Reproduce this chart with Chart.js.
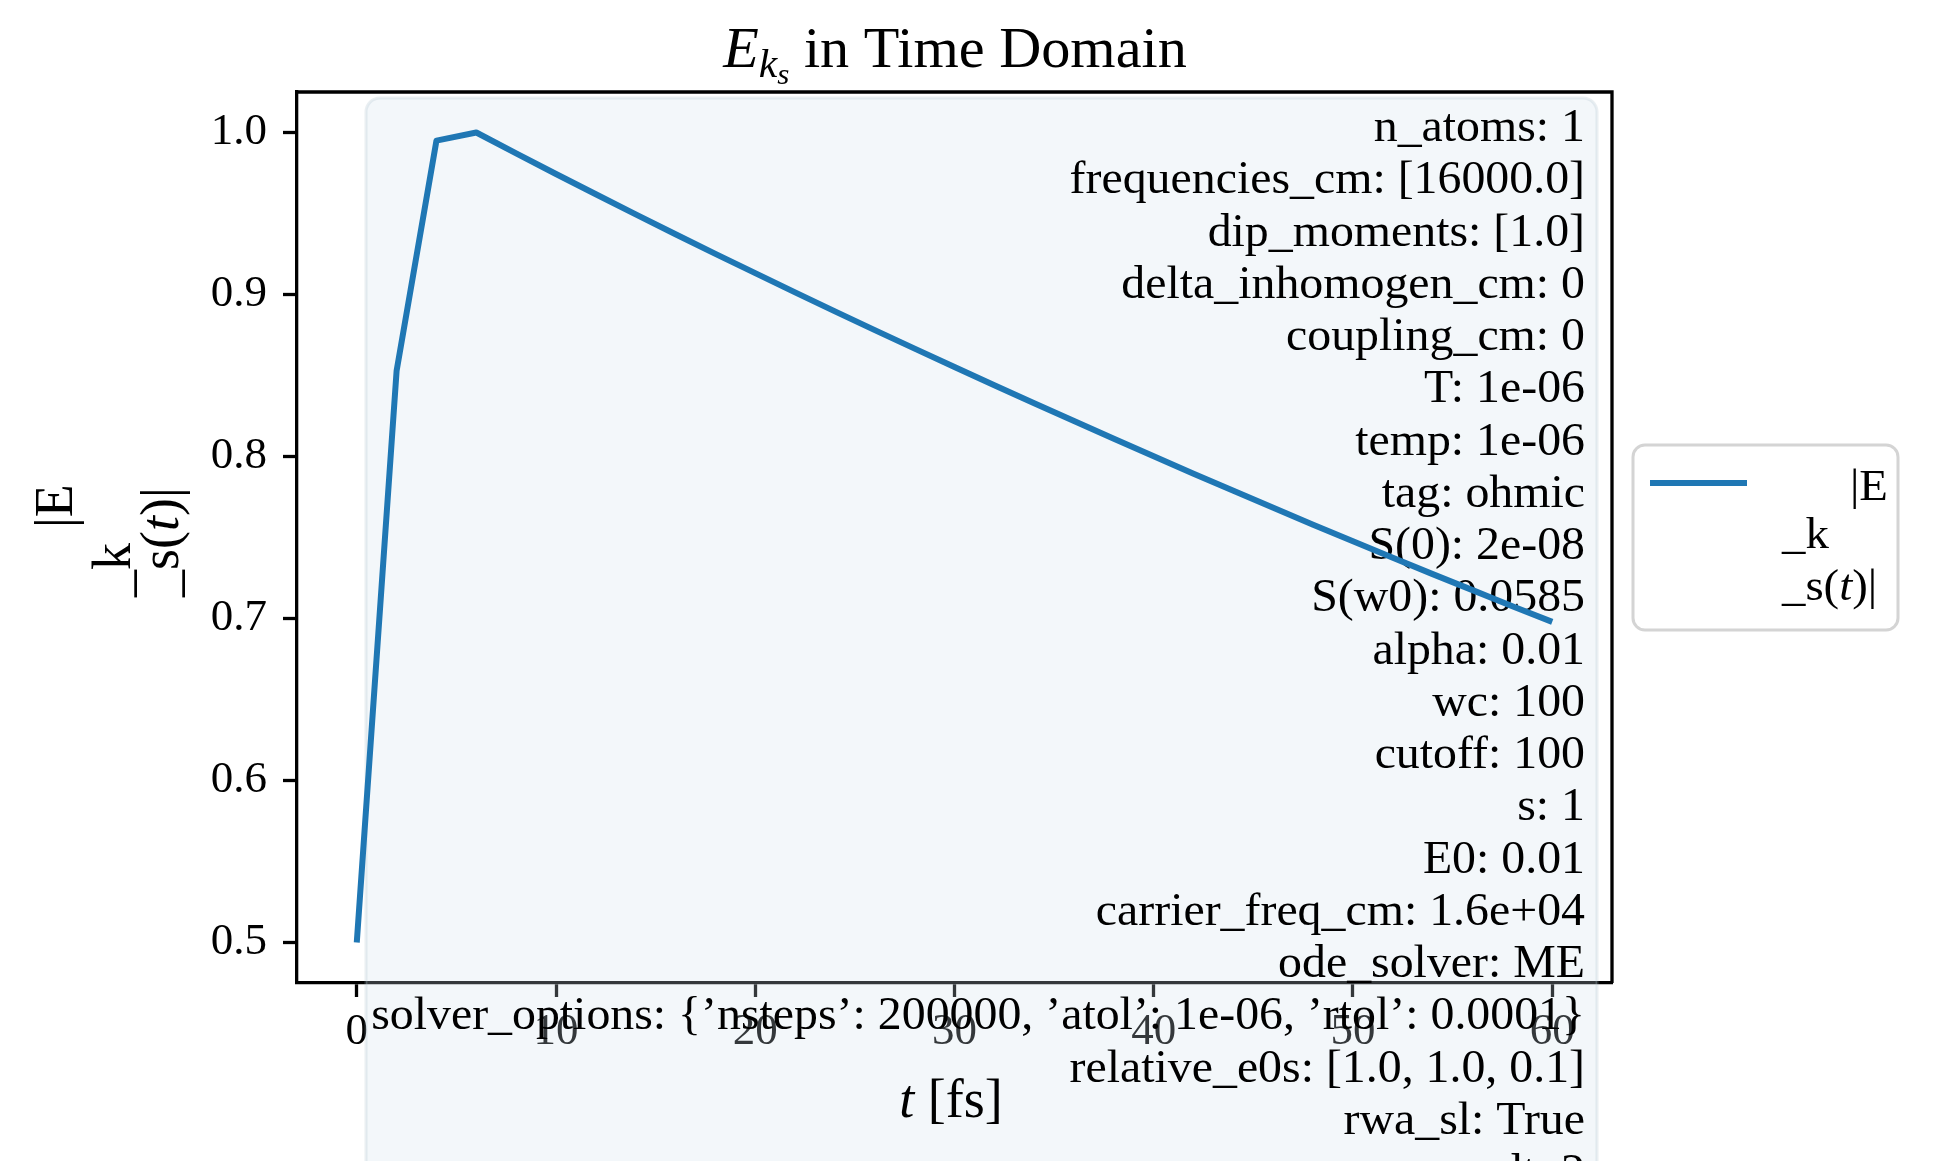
<!DOCTYPE html>
<html>
<head>
<meta charset="utf-8">
<script src="https://cdn.jsdelivr.net/npm/chart.js@4.4.1/dist/chart.umd.min.js"></script>
<style>
  html, body { margin: 0; padding: 0; background: #ffffff; }
  #wrap { width: 1933px; height: 1161px; overflow: hidden; }
</style>
</head>
<body>
<div id="wrap"><canvas id="c" width="1933" height="1161" style="width:1933px;height:1161px"></canvas></div>
<script>
// ---------------- data ----------------
const tValues = [0, 2, 4, 6, 8, 10, 12, 14, 16, 18, 20, 22, 24, 26, 28, 30,
                 32, 34, 36, 38, 40, 42, 44, 46, 48, 50, 52, 54, 56, 58, 60];
const eValues = [0.5000, 0.8530, 0.9950, 1.0000, 0.9871, 0.9744, 0.9619, 0.9495, 0.9372, 0.9251,
                 0.9132, 0.9013, 0.8896, 0.8780, 0.8666, 0.8552, 0.8440, 0.8329, 0.8219, 0.8109,
                 0.8001, 0.7894, 0.7788, 0.7683, 0.7579, 0.7477, 0.7375, 0.7274, 0.7175, 0.7076, 0.6979];
const xTicks = [0, 10, 20, 30, 40, 50, 60];
const yTicks = [0.5, 0.6, 0.7, 0.8, 0.9, 1.0];
const paramLines = [
  "n_atoms: 1",
  "frequencies_cm: [16000.0]",
  "dip_moments: [1.0]",
  "delta_inhomogen_cm: 0",
  "coupling_cm: 0",
  "T: 1e-06",
  "temp: 1e-06",
  "tag: ohmic",
  "S(0): 2e-08",
  "S(w0): 0.0585",
  "alpha: 0.01",
  "wc: 100",
  "cutoff: 100",
  "s: 1",
  "E0: 0.01",
  "carrier_freq_cm: 1.6e+04",
  "ode_solver: ME",
  "solver_options: {\u2019nsteps\u2019: 200000, \u2019atol\u2019: 1e-06, \u2019rtol\u2019: 0.0001}",
  "relative_e0s: [1.0, 1.0, 0.1]",
  "rwa_sl: True",
  "dt: 2"
];

// ---------------- helpers ----------------
const SERIF = '"Liberation Serif", "DejaVu Serif", serif';
function f(size, italic) { return (italic ? 'italic ' : '') + size + 'px ' + SERIF; }

function drawParts(ctx, parts, x, y, align, sx, rot) {
  ctx.save();
  ctx.translate(x, y);
  if (rot) ctx.rotate(rot);
  ctx.scale(sx || 1, 1);
  ctx.textBaseline = 'alphabetic';
  ctx.textAlign = 'left';
  ctx.fillStyle = '#000';
  let w = 0;
  parts.forEach(p => { ctx.font = p.f; w += ctx.measureText(p.t).width; });
  let cx = align === 'center' ? -w / 2 : (align === 'right' ? -w : 0);
  parts.forEach(p => { ctx.font = p.f; ctx.fillText(p.t, cx, p.dy || 0); cx += ctx.measureText(p.t).width; });
  ctx.restore();
}
function rrect(ctx, x, y, w, h, r) {
  ctx.beginPath();
  ctx.moveTo(x + r, y);
  ctx.lineTo(x + w - r, y);
  ctx.arcTo(x + w, y, x + w, y + r, r);
  ctx.lineTo(x + w, y + h - r);
  ctx.arcTo(x + w, y + h, x + w - r, y + h, r);
  ctx.lineTo(x + r, y + h);
  ctx.arcTo(x, y + h, x, y + h - r, r);
  ctx.lineTo(x, y + r);
  ctx.arcTo(x, y, x + r, y, r);
  ctx.closePath();
}

const decor = {
  id: 'decor',
  beforeDraw(chart) {
    const ctx = chart.ctx;
    ctx.save();
    ctx.fillStyle = '#ffffff';
    ctx.fillRect(0, 0, chart.width, chart.height);
    ctx.restore();
  },
  beforeDatasetsDraw(chart) {
    const ctx = chart.ctx;
    const a = chart.chartArea;
    // top & right spines
    ctx.save();
    ctx.strokeStyle = '#000';
    ctx.lineWidth = 3.3;
    ctx.beginPath();
    ctx.moveTo(a.left, a.top); ctx.lineTo(a.right, a.top); ctx.lineTo(a.right, a.bottom);
    ctx.stroke();
    ctx.restore();
    // parameter text box (semi transparent)
    ctx.save();
    rrect(ctx, 366, 98, 1231, 1160, 14);
    ctx.fillStyle = 'rgba(207,223,235,0.25)';
    ctx.fill();
    ctx.strokeStyle = 'rgba(170,190,205,0.25)';
    ctx.lineWidth = 3;
    ctx.stroke();
    ctx.restore();
    paramLines.forEach((s, i) => {
      drawParts(ctx, [{ t: s, f: f(46) }], 1585, 141 + 52.25 * i, 'right', 1.04);
    });
  },
  afterDraw(chart) {
    const ctx = chart.ctx;
    // title
    drawParts(ctx, [
      { t: 'E', f: f(56, true) },
      { t: 'k', f: f(40, true), dy: 10 },
      { t: 's', f: f(30, true), dy: 17 },
      { t: ' in Time Domain', f: f(56) }
    ], 955, 67, 'center', 1.04);
    // x label
    drawParts(ctx, [
      { t: 't', f: f(54, true) },
      { t: ' [fs]', f: f(54) }
    ], 951, 1117, 'center', 1.0);
    // y label (three rotated lines)
    const R = -Math.PI / 2;
    drawParts(ctx, [{ t: '|E', f: f(54) }], 72, 528, 'left', 1.0, R);
    drawParts(ctx, [{ t: '_k', f: f(54) }], 130, 597, 'left', 1.0, R);
    drawParts(ctx, [{ t: '_s(', f: f(54) }, { t: 't', f: f(54, true) }, { t: ')|', f: f(54) }], 178, 597, 'left', 1.0, R);
    // legend
    ctx.save();
    rrect(ctx, 1633, 445, 265, 185, 12);
    ctx.fillStyle = 'rgba(255,255,255,0.85)';
    ctx.fill();
    ctx.strokeStyle = '#d4d4d4';
    ctx.lineWidth = 3;
    ctx.stroke();
    ctx.strokeStyle = chart.data.datasets[0].borderColor;
    ctx.lineWidth = 6;
    ctx.beginPath();
    ctx.moveTo(1650, 483); ctx.lineTo(1747, 483);
    ctx.stroke();
    ctx.restore();
    drawParts(ctx, [{ t: '|E', f: f(45) }], 1850, 500, 'left', 1.04);
    drawParts(ctx, [{ t: '_k', f: f(45) }], 1782, 548, 'left', 1.04);
    drawParts(ctx, [{ t: '_s(', f: f(45) }, { t: 't', f: f(45, true) }, { t: ')|', f: f(45) }], 1782, 600, 'left', 1.04);
  }
};

const tickFont = { family: SERIF, size: 45 };

new Chart(document.getElementById('c'), {
  type: 'line',
  data: {
    datasets: [{
      label: '|E_k_s(t)|',
      data: tValues.map((t, i) => ({ x: t, y: eValues[i] })),
      borderColor: '#1f77b4',
      borderWidth: 6,
      pointRadius: 0,
      tension: 0,
      fill: false,
      borderJoinStyle: 'round',
      borderCapStyle: 'butt'
    }]
  },
  options: {
    responsive: false,
    devicePixelRatio: 1,
    animation: false,
    events: [],
    layout: { padding: { top: 92, right: 321, left: 0, bottom: 0 } },
    plugins: { legend: { display: false }, title: { display: false }, tooltip: { enabled: false } },
    scales: {
      x: {
        type: 'linear',
        min: -3, max: 63,
        afterBuildTicks: s => { s.ticks = xTicks.map(v => ({ value: v })); },
        afterFit: s => { s.height = 178; },
        ticks: { font: tickFont, color: '#000', padding: 8, maxRotation: 0, autoSkip: false,
                 callback: v => String(v) },
        grid: { display: true, drawOnChartArea: false, drawTicks: true, tickLength: 14,
                tickWidth: 3.3, tickColor: '#000' },
        border: { display: true, color: '#000', width: 3.3 }
      },
      y: {
        type: 'linear',
        min: 0.475, max: 1.025,
        afterBuildTicks: s => { s.ticks = yTicks.map(v => ({ value: v })); },
        afterFit: s => { s.width = 297; },
        ticks: { font: tickFont, color: '#000', padding: 16, autoSkip: false,
                 callback: v => Number(v).toFixed(1) },
        grid: { display: true, drawOnChartArea: false, drawTicks: true, tickLength: 14,
                tickWidth: 3.3, tickColor: '#000' },
        border: { display: true, color: '#000', width: 3.3 }
      }
    }
  },
  plugins: [decor]
});
</script>
</body>
</html>
